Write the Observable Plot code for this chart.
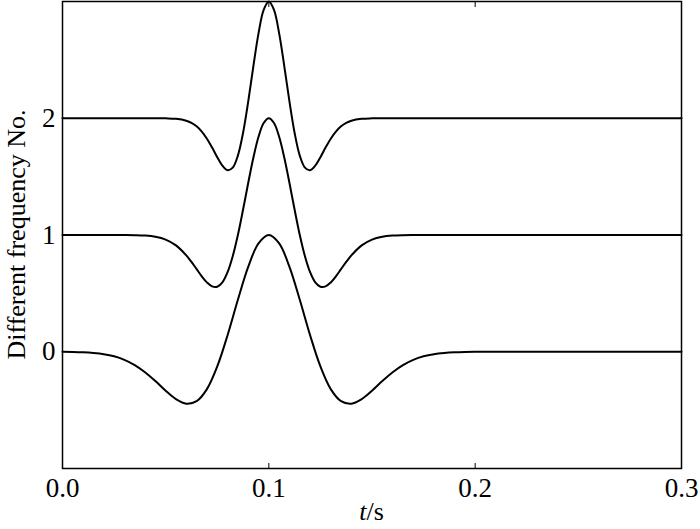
<!DOCTYPE html>
<html>
<head>
<meta charset="utf-8">
<script src="https://cdn.jsdelivr.net/npm/d3@7"></script>
<script src="https://cdn.jsdelivr.net/npm/@observablehq/plot@0.6"></script>
<style>
  html, body { margin: 0; padding: 0; background: #fff; }
  svg { display: block; }
</style>
</head>
<body>
<div id="chart"></div>
<script>
// Trace offsets (frequency number)
const offsets = [0, 1, 2];

// Trace 0 (lowest frequency)
const t0 = [0.000,0.005,0.010,0.015,0.020,0.025,0.030,0.035,0.040,0.045,0.050,0.055,0.060,0.065,0.070,0.075,0.080,0.085,0.090,0.095,0.100,
            0.105,0.110,0.115,0.120,0.125,0.130,0.135,0.140,0.145,0.150,0.155,0.160,0.165,0.170,0.175,0.180,0.185,0.190,0.195,0.200,0.250,0.300];
const v0 = [-0.001,-0.002,-0.005,-0.011,-0.021,-0.039,-0.069,-0.114,-0.175,-0.251,-0.334,-0.406,-0.445,-0.423,-0.320,-0.126,0.142,0.445,0.727,0.928,1.000,
            0.928,0.727,0.445,0.142,-0.126,-0.320,-0.423,-0.445,-0.406,-0.334,-0.251,-0.175,-0.114,-0.069,-0.039,-0.021,-0.011,-0.005,-0.002,-0.001,0,0];

// Trace 1 (middle frequency)
const t1 = [0.000,0.020,0.030,0.035,0.040,0.045,0.050,0.055,0.060,0.0625,0.065,0.0675,0.070,0.0725,0.075,0.0775,0.080,0.0825,0.085,0.0875,0.090,0.0925,0.095,0.0975,0.100,
            0.1025,0.105,0.1075,0.110,0.1125,0.115,0.1175,0.120,0.1225,0.125,0.1275,0.130,0.1325,0.135,0.1375,0.140,0.145,0.150,0.155,0.160,0.165,0.170,0.180,0.300];
const v1 = [0,0,-0.0004,-0.0015,-0.005,-0.015,-0.039,-0.089,-0.175,-0.231,-0.292,-0.354,-0.406,-0.440,-0.443,-0.406,-0.319,-0.182,0.000,0.216,0.445,0.662,0.841,0.959,1.000,
            0.959,0.841,0.662,0.445,0.216,0.000,-0.182,-0.319,-0.406,-0.443,-0.440,-0.406,-0.354,-0.292,-0.231,-0.175,-0.089,-0.039,-0.015,-0.005,-0.0015,-0.0004,0,0];

// Trace 2 (highest frequency)
const t2 = [0.000,0.040,0.050,0.055,0.060,0.0625,0.065,0.0675,0.070,0.0725,0.075,0.0775,0.080,0.0825,0.085,0.0875,0.090,0.0925,0.095,0.0975,0.100,
            0.1025,0.105,0.1075,0.110,0.1125,0.115,0.1175,0.120,0.1225,0.125,0.1275,0.130,0.1325,0.135,0.1375,0.140,0.145,0.150,0.160,0.300];
const v2 = [0,0,-0.001,-0.005,-0.021,-0.039,-0.069,-0.114,-0.175,-0.251,-0.334,-0.406,-0.445,-0.423,-0.320,-0.126,0.142,0.445,0.727,0.928,1.000,
            0.928,0.727,0.445,0.142,-0.126,-0.320,-0.423,-0.445,-0.406,-0.334,-0.251,-0.175,-0.114,-0.069,-0.039,-0.021,-0.005,-0.001,0,0];

const xTicks = [0.0, 0.1, 0.2, 0.3];
const yTicks = [0, 1, 2];
const xLabelItalic = "t";
const xLabelRest = "/s";
const yLabel = "Different frequency No.";

const traces = [[t0, v0], [t1, v1], [t2, v2]];
const data = traces.flatMap(([ts, vs], k) => ts.map((t, i) => ({t, y: vs[i] + offsets[k], trace: k})));

const W = 700, H = 529;
const font = "'Liberation Serif', 'Times New Roman', serif";

const chart = Plot.plot({
  width: W,
  height: H,
  marginLeft: 62,
  marginRight: 19,
  marginTop: 1,
  marginBottom: 61,
  style: {fontFamily: font, fontSize: "27px", color: "black", background: "white"},
  x: {domain: [0, 0.3]},
  y: {domain: [-1, 3]},
  marks: [
    Plot.axisX({anchor: "bottom", ticks: xTicks, tickSize: 0, tickPadding: 9, tickFormat: d3.format(".1f"), label: null, fontSize: 27}),
    Plot.axisX({anchor: "bottom", ticks: [0.1, 0.2], tickSize: -5, tickFormat: () => "", label: null}),
    Plot.axisX({anchor: "top", ticks: [0.1, 0.2], tickSize: -5, tickFormat: () => "", label: null}),
    Plot.axisY({ticks: yTicks, tickSize: 0, tickPadding: 7, tickFormat: d3.format("d"), label: null, fontSize: 27}),
    Plot.line(data, {x: "t", y: "y", z: "trace", stroke: "black", strokeWidth: 2, curve: "catmull-rom"}),
    Plot.frame({stroke: "black", strokeWidth: 1.5})
  ]
});

const svg = d3.select(chart);
const xl = svg.append("text")
  .attr("x", (62 + (W - 19)) / 2)
  .attr("y", 520)
  .attr("text-anchor", "middle")
  .attr("font-family", font)
  .attr("font-size", 26)
  .attr("fill", "black");
xl.append("tspan").attr("font-style", "italic").text(xLabelItalic);
xl.append("tspan").text(xLabelRest);

svg.append("text")
  .attr("transform", `translate(25,${(1 + 468) / 2}) rotate(-90)`)
  .attr("text-anchor", "middle")
  .attr("font-family", font)
  .attr("font-size", 26)
  .attr("fill", "black")
  .text(yLabel);

document.getElementById("chart").appendChild(chart);
</script>
</body>
</html>
